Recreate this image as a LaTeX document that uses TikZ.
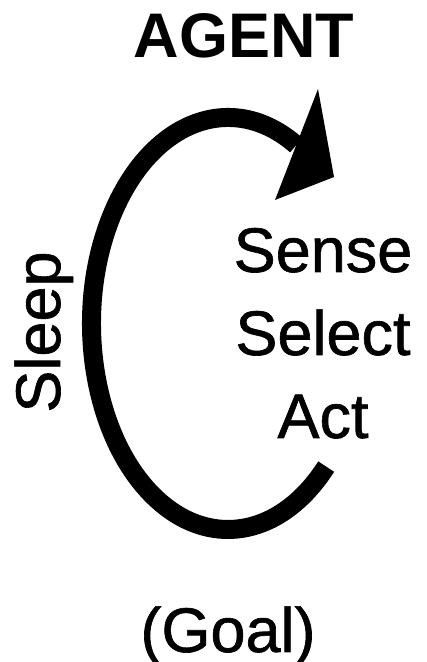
\documentclass[tikz,border=0pt]{standalone}
\usepackage{fontspec}
\setmainfont{Liberation Sans}
\newfontfamily\heavysans[FakeBold=1]{Liberation Sans}

\begin{document}
\begin{tikzpicture}[x=1pt,y=1pt,
  word/.style={anchor=base,inner sep=0pt,font=\fontsize{63}{83}\heavysans}]
\useasboundingbox (0,0) rectangle (427,662);

\node[word,font=\fontsize{63}{83}\selectfont\bfseries] (agent) at (244,604) {AGENT};

% the loop
\draw[line width=19] (228,338.5) ++(60:136.5 and 206)
  arc[start angle=60, end angle=316, x radius=136.5, y radius=206];
\fill (318,573) -- (334,485) -- (275,462) -- cycle;

\node[word] (sense) at (323,390) {Sense};
\node[word] (select) at (323,307) {Select};
\node[word] (act) at (323,224) {Act};
\node[word,rotate=90] (sleep) at (60,330) {Sleep};
\node[word] (goal) at (228,10) {(Goal)};
\end{tikzpicture}
\end{document}
